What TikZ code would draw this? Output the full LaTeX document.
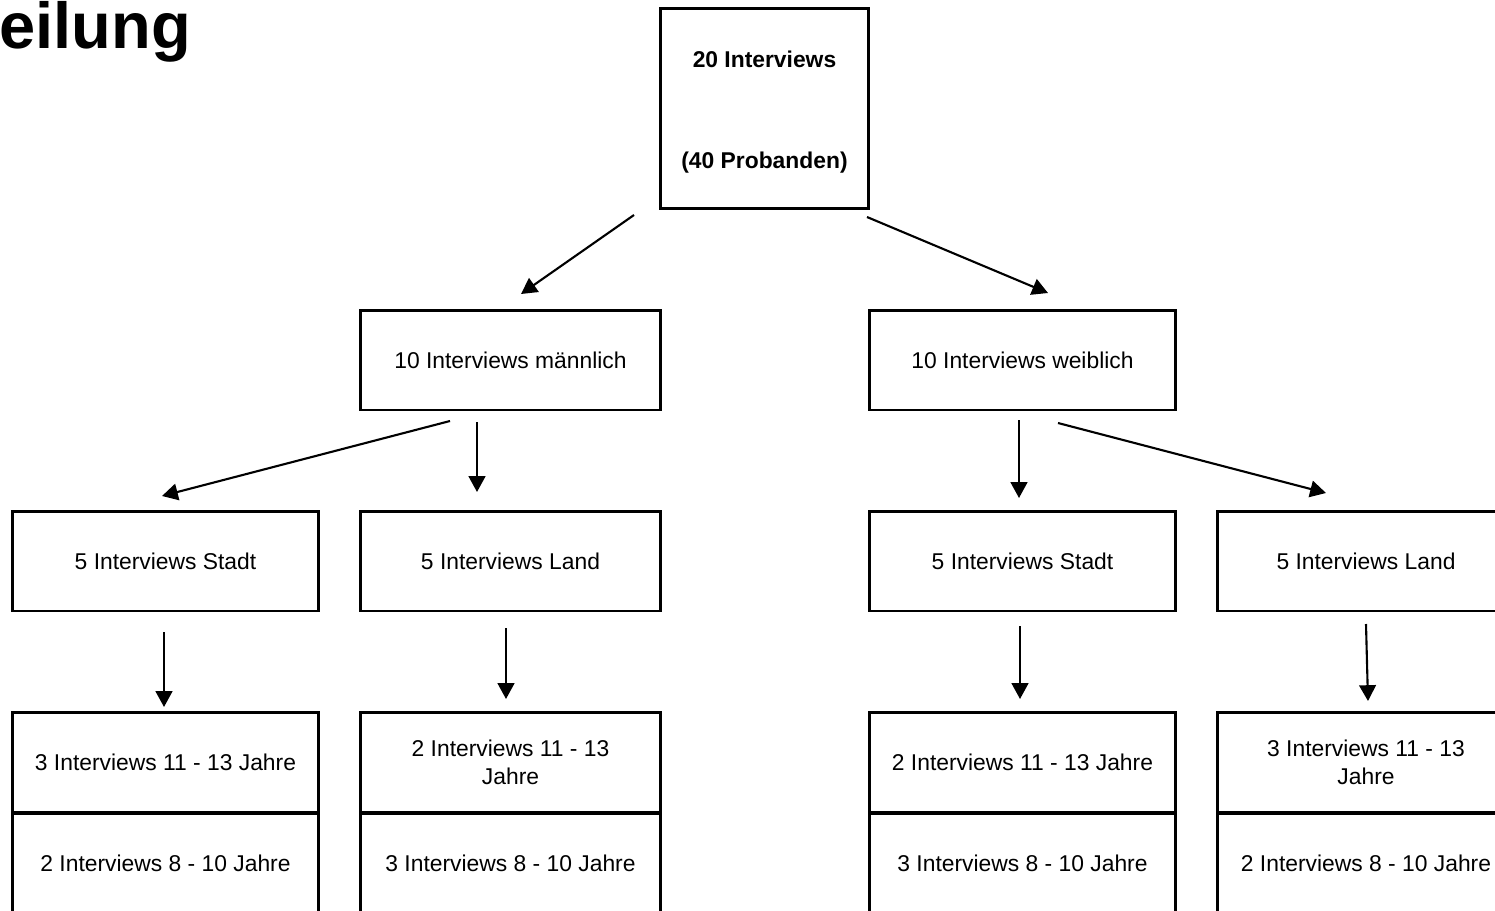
\documentclass[tikz,border=0pt]{standalone}
\usepackage{fontspec}
\setmainfont{Liberation Sans}
\usetikzlibrary{arrows.meta}
\begin{document}
\begin{tikzpicture}[x=0.02cm,y=-0.02cm,
  box/.style={draw, line width=1.7pt, inner sep=0pt, align=center,
    font=\fontsize{13pt}{15.9pt}\selectfont, minimum height=2cm},
  wbox/.style={box, minimum width=6.14cm},
  nbox/.style={box, minimum width=6.02cm},
  arr/.style={line width=1.2pt, -{Triangle[length=9pt,width=9.5pt]}}]
\useasboundingbox (0,0) rectangle (1495,910);
\clip (0,0) rectangle (1495,910);
% title
\node[anchor=base west, inner sep=0pt, font=\fontsize{37pt}{40pt}\selectfont\bfseries] (title) at (-1,48) {eilung};
% top
\node[box, minimum width=4.18cm, minimum height=4.02cm, font=\fontsize{13pt}{15.9pt}\selectfont\bfseries] (top) at (764.5,108.5) {\rule{0pt}{13.8pt}20 Interviews\\[41.5pt](40 Probanden)};
% level 2
\node[nbox] (m) at (510.5,360) {10 Interviews männlich};
\node[wbox] (w) at (1022.5,360) {10 Interviews weiblich};
% level 3
\node[wbox] (ms) at (165.5,561) {5 Interviews Stadt};
\node[nbox] (ml) at (510.5,561) {5 Interviews Land};
\node[wbox] (ws) at (1022.5,561) {5 Interviews Stadt};
\node[box, minimum width=5.96cm] (wl) at (1366,561) {5 Interviews Land};
% level 4
\node[wbox] (ms1) at (165.5,762) {3 Interviews 11 - 13 Jahre};
\node[wbox] (ms2) at (165.5,863) {2 Interviews 8 - 10 Jahre};
\node[nbox] (ml1) at (510.5,762) {2 Interviews 11 - 13\\Jahre};
\node[nbox] (ml2) at (510.5,863) {3 Interviews 8 - 10 Jahre};
\node[wbox] (ws1) at (1022.5,762) {2 Interviews 11 - 13 Jahre};
\node[wbox] (ws2) at (1022.5,863) {3 Interviews 8 - 10 Jahre};
\node[box, minimum width=5.96cm] (wl1) at (1366,762) {3 Interviews 11 - 13\\Jahre};
\node[box, minimum width=5.96cm] (wl2) at (1366,863) {2 Interviews 8 - 10 Jahre};
% arrow end points
\coordinate (a1s) at (634,215); \coordinate (a1e) at (521,294);
\coordinate (a2s) at (867,217); \coordinate (a2e) at (1048,293);
\coordinate (a3s) at (450,421); \coordinate (a3e) at (162,496);
\coordinate (a4s) at (477,422); \coordinate (a4e) at (477,492);
\coordinate (a5s) at (1019,420); \coordinate (a5e) at (1019,498);
\coordinate (a6s) at (1058,423); \coordinate (a6e) at (1326,493);
\coordinate (a7s) at (164,632); \coordinate (a7e) at (164,707);
\coordinate (a8s) at (506,628); \coordinate (a8e) at (506,699);
\coordinate (a9s) at (1020,626); \coordinate (a9e) at (1020,699);
\coordinate (a10s) at (1366,624); \coordinate (a10e) at (1368,701);
\foreach \i in {1,...,10} \draw[arr] (a\i s) -- (a\i e);
\end{tikzpicture}
\end{document}
